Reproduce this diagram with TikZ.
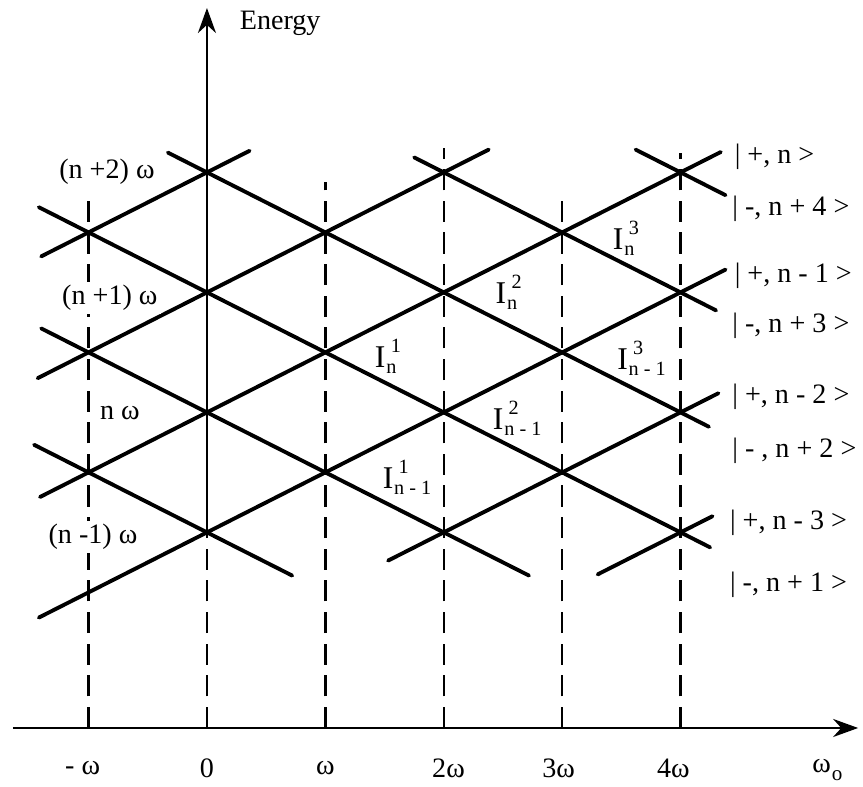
\documentclass[tikz,border=0pt]{standalone}
\usepackage{fontspec}
\setmainfont{Liberation Serif}
\usetikzlibrary{arrows.meta}

\newcommand{\Ilab}[2]{{\fontsize{18}{18}\selectfont I}\kern0.5pt%
  \rlap{\raisebox{8.5pt}{\fontsize{11.5}{11.5}\selectfont\kern2.5pt #1}}%
  \raisebox{-3.4pt}{\fontsize{11.5}{11.5}\selectfont #2}}

\begin{document}
\begin{tikzpicture}[x=2.368cm, y=2.4cm, >={Stealth[length=5mm,width=3.6mm]},
  level/.style={line width=2.2pt, line cap=round},
  guide/.style={line width=1.4pt, dash pattern=on 12pt off 6pt},
  axis/.style={line width=1.6pt},
  lvl/.style={fill=white, inner sep=2pt},
  every node/.style={font=\fontsize{16}{18}\selectfont, inner sep=1pt}]
\useasboundingbox (-1.748,-0.4917) rectangle (5.541,6.0667);

% axes
\draw[axis,->] (-1.64,0) -- (5.5,0);
\draw[axis,->] (0,1.63) -- (0,6.0);
\node (energy) [anchor=base west] at (0.26,5.82) {Energy};

% dashed lines at multiples of omega
\foreach \x/\top in {-1/4.44, 1/4.55, 2/4.83, 3/4.47, 4/4.79}
  \draw[guide] (\x,0) -- (\x,\top);
\draw[guide] (0,0) -- (0,1.63);

% tick labels
\foreach \x/\txt [count=\i] in {-1.05/- ω, 0/0, 1/ω, 2.04/2ω, 2.97/3ω, 3.94/4ω}
  \node (tick\i) at (\x,-0.333) {\txt};
\node (wo) at (5.24,-0.35) {ω\kern0.5pt\raisebox{-0.55ex}{\fontsize{12}{12}\selectfont o}};

\begin{scope}[shift={(0,1.63)}]
% |+, .> levels, slope +1/2
\foreach \j/\a/\b in {0/-1.42/4.38, 1/-1.41/4.34, 2/-1.43/2.38, 3/-1.40/0.36,
                      -2/3.30/4.27, -1/1.53/4.32}
  \draw[level] (\a,{\j+(\a)/2}) -- (\b,{\j+(\b)/2});
% |-, .> levels, slope -1/2
\foreach \j/\a/\b in {2/-1.42/4.25, 1/-1.40/2.72, 0/-1.46/0.72, 3/-0.33/4.24,
                      4/1.75/4.30, 5/3.62/4.38}
  \draw[level] (\a,{\j-(\a)/2}) -- (\b,{\j-(\b)/2});
\end{scope}

% energies on the axis
\node[lvl] (np2) at (-0.845,4.633) {(n +2) ω};
\node[lvl] (np1) at (-0.82,3.583) {(n +1) ω};
\node[lvl] (n0)  at (-0.735,2.625) {n ω};
\node[lvl] (nm1) at (-0.963,1.592) {(n -1) ω};

% crossing labels
\node (i1n)  at (1.51,3.10) {\Ilab{1}{n}};
\node (i1m)  at (1.69,2.09) {\Ilab{1}{n - 1}};
\node (i2n)  at (2.53,3.63) {\Ilab{2}{n}};
\node (i2m)  at (2.62,2.58) {\Ilab{2}{n - 1}};
\node (i3n)  at (3.52,4.08) {\Ilab{3}{n}};
\node (i3m)  at (3.67,3.08) {\Ilab{3}{n - 1}};

% dressed states
\node (kp0) [anchor=west] at (4.44,4.76) {| +, n >};
\node (km4) [anchor=west] at (4.42,4.33) {| -, n + 4 >};
\node (kp1) [anchor=west] at (4.44,3.77) {| +, n - 1 >};
\node (km3) [anchor=west] at (4.42,3.35) {| -, n + 3 >};
\node (kp2) [anchor=west] at (4.42,2.76) {| +, n - 2 >};
\node (km2) [anchor=west] at (4.42,2.31) {| - , n + 2 >};
\node (kp3) [anchor=west] at (4.40,1.71) {| +, n - 3 >};
\node (km1) [anchor=west] at (4.40,1.19) {| -, n + 1 >};
\end{tikzpicture}
\end{document}
